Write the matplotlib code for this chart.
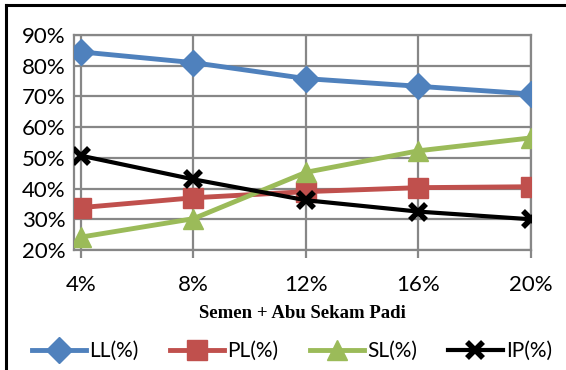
import matplotlib
matplotlib.use('Agg')
import matplotlib.pyplot as plt
from matplotlib.lines import Line2D
from matplotlib.ticker import FuncFormatter

# Kadar campuran semen + abu sekam padi
kadar = ['4%', '8%', '12%', '16%', '20%']
ll = [84.5, 81.0, 75.8, 73.3, 70.8]
pl = [33.8, 37.0, 39.0, 40.3, 40.6]
sl = [24.2, 30.2, 45.3, 52.3, 56.5]
ip = [50.7, 43.0, 36.2, 32.5, 30.0]

plt.rcParams['font.family'] = ['Lato', 'DejaVu Sans']

fig = plt.figure(figsize=(5.66, 3.70), dpi=100)
ax = fig.add_axes([74/566, 120/370, 457/566, 215/370])

x = range(len(kadar))
ax.plot(x, ll, color='#4F81BD', lw=3.5, marker='D', ms=13, label='LL(%)', zorder=3)
ax.plot(x, pl, color='#C0504D', lw=3.5, marker='s', ms=15, label='PL(%)', zorder=3)
ax.plot(x, sl, color='#9BBB59', lw=3.5, marker='^', ms=15, label='SL(%)', zorder=3)
ax.plot(x, ip, color='black', lw=3, marker='x', ms=12, mew=4, label='IP(%)', zorder=4)

ax.set_xlim(-0.062, 4)
ax.set_ylim(20, 90)
ax.set_xticks(list(x))
ax.set_xticklabels(kadar)
ax.set_yticks(range(20, 91, 10))
ax.yaxis.set_major_formatter(FuncFormatter(lambda v, p: f'{int(v)}%'))

ax.grid(True, color='#878787', lw=1.6)
for s in ax.spines.values():
    s.set_color('#878787')
    s.set_linewidth(1.6)
ax.tick_params(axis='x', length=6, width=1.6, color='#878787', labelsize=16, pad=12)
ax.tick_params(axis='y', length=0, labelsize=16, pad=6)

ax.set_xlabel('Semen + Abu Sekam Padi', family='Liberation Serif', fontweight='bold',
              fontsize=13.5, labelpad=7)

fig.legend(*ax.get_legend_handles_labels(), loc='center', bbox_to_anchor=(292/566, 1 - 351/370),
           ncol=4, frameon=False, fontsize=15, handlelength=2.6, handletextpad=0.15,
           columnspacing=1.5, borderaxespad=0, borderpad=0)

# bingkai luar (kiri dan atas)
fig.add_artist(Line2D([6/566, 6/566], [0, 1 - 5/370], transform=fig.transFigure,
                      color='black', lw=2.2))
fig.add_artist(Line2D([6/566, 1], [1 - 5/370, 1 - 5/370], transform=fig.transFigure,
                      color='black', lw=2.2))

fig.savefig('out.png', dpi=100)
